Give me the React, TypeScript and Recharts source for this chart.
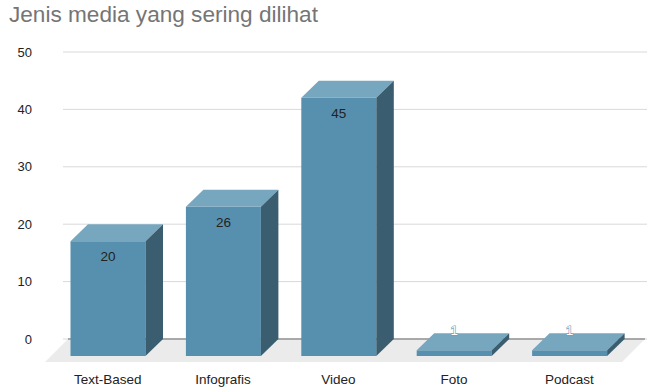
import { BarChart, Bar, XAxis, YAxis, CartesianGrid, ReferenceArea } from 'recharts';

const categories = ['Text-Based', 'Infografis', 'Video', 'Foto', 'Podcast'];
const counts = [20, 26, 45, 1, 1];
const yTicks = [0, 10, 20, 30, 40, 50];

const data = categories.map((name, i) => ({ name, value: counts[i] }));

const DX = 17.5;
const DY = 17;
const FONT = '"Liberation Sans", Arial, sans-serif';

const Bar3D = (props: any) => {
  const { x, y, width, height, value } = props;
  const fx = x - DX;
  const fy = y + DY;
  const bottom = y + height + DY;
  const frontH = bottom - fy;
  const cx = fx + width / 2;
  const small = frontH < 24;
  return (
    <g>
      <rect x={fx} y={fy} width={width} height={frontH} fill="#5790ae" />
      <polygon
        points={`${fx},${fy} ${x},${y} ${x + width},${y} ${fx + width},${fy}`}
        fill="#77a6bf"
      />
      <polygon
        points={`${fx + width},${fy} ${x + width},${y} ${x + width},${y + height} ${fx + width},${bottom}`}
        fill="#3a5e70"
      />
      {small ? (
        <text x={cx} y={y - 3} textAnchor="middle" dominantBaseline="central"
          fontSize={13.5} fontFamily={FONT} fill="#ffffff" stroke="#6a9fba" strokeWidth={1.2}
          style={{ paintOrder: 'stroke' }}>
          {value}
        </text>
      ) : (
        <text x={cx} y={fy + 15.5} textAnchor="middle" dominantBaseline="central"
          fontSize={13.5} fontFamily={FONT} fill="#222222">
          {value}
        </text>
      )}
    </g>
  );
};

const Floor = (props: any) => {
  const { x, y, width, height } = props;
  return (
    <g>
      <polygon
        points={`${x},${y} ${x + width},${y} ${x + width - height},${y + height} ${x - height},${y + height}`}
        fill="#ebebeb"
      />
      <line x1={x} y1={y} x2={x + width} y2={y} stroke="#666666" strokeWidth={1} />
    </g>
  );
};

export default function App() {
  return (
    <div style={{ position: 'relative', width: 647, height: 388, background: '#fff' }}>
      <style>{`body{margin:0}`}</style>
      <div style={{ position: 'absolute', left: 9, top: 2, fontFamily: FONT, fontSize: 22.6, color: '#757575', whiteSpace: 'nowrap' }}>
        Jenis media yang sering dilihat
      </div>
      <BarChart width={647} height={388} data={data} margin={{ top: 52, right: 0, bottom: 0, left: 0 }}>
        <CartesianGrid vertical={false} stroke="#d9d9d9" />
        <ReferenceArea y1={0} y2={-4} ifOverflow="visible" shape={Floor} />
        <XAxis dataKey="name" height={49} axisLine={false} tickLine={false} tickMargin={29}
          padding={{ left: 5, right: 2 }} interval={0}
          tick={{ fontSize: 13.5, fill: '#222222', fontFamily: FONT, dx: -18 }} />
        <YAxis width={63} domain={[0, 50]} ticks={yTicks} axisLine={false} tickLine={false} tickMargin={25}
          tick={{ fontSize: 13, fill: '#222222', fontFamily: FONT }} />
        <Bar dataKey="value" barSize={75} shape={Bar3D} isAnimationActive={false} />
      </BarChart>
    </div>
  );
}
